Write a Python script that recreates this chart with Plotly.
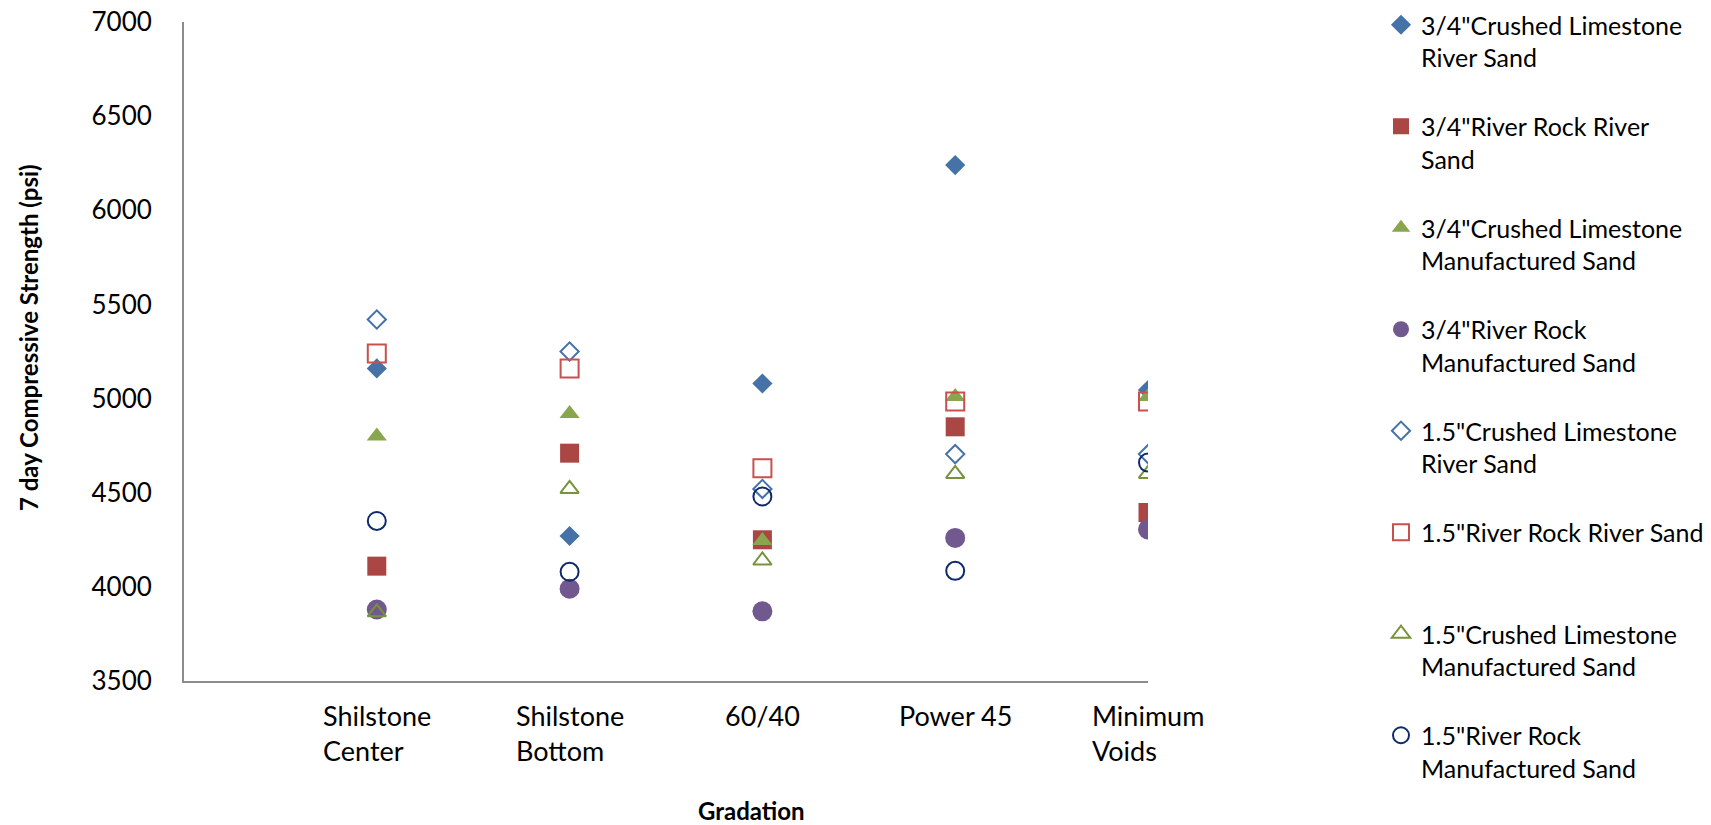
import plotly.graph_objects as go

# ---- data ----
categories = ["Shilstone<br>Center", "Shilstone<br>Bottom", "60/40", "Power 45", "Minimum<br>Voids"]

cl34_rs = [5160, 4270, 5080, 6240, 5045]   # 3/4" Crushed Limestone River Sand
rr34_rs = [4110, 4710, 4250, 4850, 4395]   # 3/4" River Rock River Sand
cl34_ms = [4800, 4920, 4245, 5010, 5010]   # 3/4" Crushed Limestone Manufactured Sand
rr34_ms = [3880, 3990, 3870, 4260, 4305]   # 3/4" River Rock Manufactured Sand
cl15_rs = [5420, 5250, 4520, 4705, 4705]   # 1.5" Crushed Limestone River Sand
rr15_rs = [5240, 5160, 4630, 4985, 4985]   # 1.5" River Rock River Sand
cl15_ms = [3865, 4520, 4140, 4600, 4600]   # 1.5" Crushed Limestone Manufactured Sand
rr15_ms = [4350, 4080, 4480, 4085, 4660]   # 1.5" River Rock Manufactured Sand

series_names = [
    '3/4"Crushed Limestone<br>River Sand',
    '3/4"River Rock River<br>Sand',
    '3/4"Crushed Limestone<br>Manufactured Sand',
    '3/4"River Rock<br>Manufactured Sand',
    '1.5"Crushed Limestone<br>River Sand',
    '1.5"River Rock River Sand<br>\u00a0',
    '1.5"Crushed Limestone<br>Manufactured Sand',
    '1.5"River Rock<br>Manufactured Sand',
]
series_values = [cl34_rs, rr34_rs, cl34_ms, rr34_ms, cl15_rs, rr15_rs, cl15_ms, rr15_ms]

y_ticks = [3500, 4000, 4500, 5000, 5500, 6000, 6500, 7000]

# ---- styles ----
styles = [
    dict(symbol="diamond", size=15.5, color="#4572A7", line=dict(width=0)),
    dict(symbol="square", size=19, color="#AA4643", line=dict(width=0)),
    dict(symbol="triangle-up", size=17.5, color="#89A54E", line=dict(width=0)),
    dict(symbol="circle", size=20, color="#71588F", line=dict(width=0)),
    dict(symbol="diamond-open", size=14, color="#4572A7", line=dict(width=2, color="#4572A7")),
    dict(symbol="square-open", size=18, color="#C9504D", line=dict(width=2, color="#C9504D")),
    dict(symbol="triangle-up-open", size=16, color="#77933C", line=dict(width=2, color="#77933C")),
    dict(symbol="circle-open", size=18, color="#0E2A6B", line=dict(width=2, color="#0E2A6B")),
]

# page body margin is removed (post_script), so figure coords = screen coords
W, H = 1711, 825
PLOT_L, PLOT_R, PLOT_T, PLOT_B = 184, 1148, 22, 681
PH = PLOT_B - PLOT_T
PW = PLOT_R - PLOT_L

fig = go.Figure()
for i, (name, vals, st) in enumerate(zip(series_names, series_values, styles)):
    fig.add_trace(go.Scatter(
        x=categories, y=vals, mode="markers", name=name,
        legendgroup=f"g{i}",
        marker=st,
    ))

annotations = [
    dict(text=c, x=c, xref="x", yref="paper", y=(PLOT_B - 697) / PH,
         xanchor="center", yanchor="top", align="left", showarrow=False,
         font=dict(size=27, family="Lato"))
    for c in categories
]
annotations += [
    dict(text="<b>Gradation</b>", xref="paper", yref="paper",
         x=(751 - PLOT_L) / PW, y=(PLOT_B - 810) / PH, xanchor="center", yanchor="middle",
         showarrow=False, font=dict(size=24, family="Lato")),
    dict(text="<b>7 day Compressive Strength (psi)</b>", xref="paper", yref="paper",
         x=(28 - PLOT_L) / PW, y=(PLOT_B - 338) / PH, xanchor="center", yanchor="middle",
         textangle=-90, showarrow=False, font=dict(size=24, family="Lato")),
]

fig.update_layout(
    width=W, height=H,
    paper_bgcolor="white", plot_bgcolor="white",
    margin=dict(l=PLOT_L, r=W - PLOT_R, t=PLOT_T, b=H - PLOT_B, autoexpand=False),
    font=dict(family="Lato, Open Sans, sans-serif", color="#000000"),
    showlegend=True,
    legend=dict(
        xref="container", yref="paper",
        x=1381 / W, y=1 + 20 / PH, xanchor="left", yanchor="top",
        font=dict(size=25, family="Lato"),
        valign="top",
        tracegroupgap=33.5,
        maxheight=1.0,
    ),
    xaxis=dict(
        type="category", range=[-1, 4], automargin=False,
        showline=True, linecolor="#8C8C8C", linewidth=2,
        showgrid=False, zeroline=False, ticks="",
        showticklabels=False,
    ),
    yaxis=dict(
        range=[3500, 7000], tickvals=y_ticks, automargin=False,
        showline=True, linecolor="#8C8C8C", linewidth=2,
        showgrid=False, zeroline=False, ticks="",
        tickfont=dict(size=26, family="Lato"),
        ticklabelstandoff=25,
        ticklabeloverflow="allow",
    ),
    annotations=annotations,
)

fig.write_html("out.html", config={"displayModeBar": False},
               post_script="document.body.style.margin='0px';")
